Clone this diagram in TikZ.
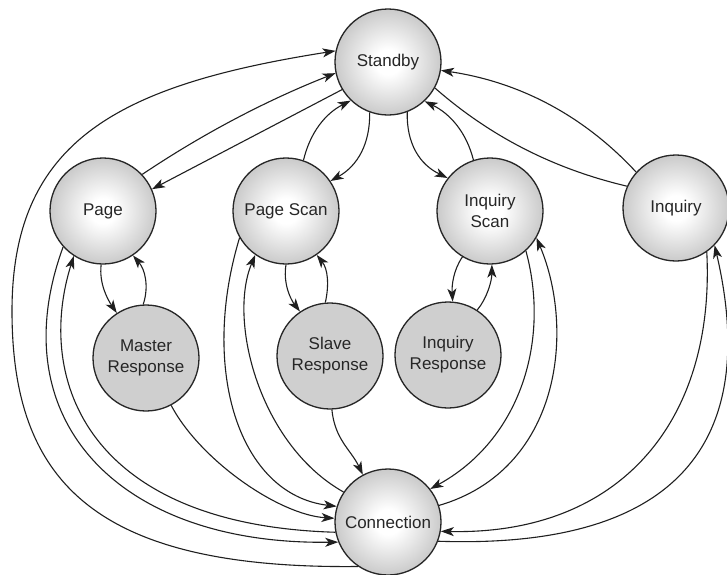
\documentclass[tikz,border=0pt]{standalone}
\usepackage{fontspec}
\setmainfont{Liberation Sans}
\usetikzlibrary{arrows.meta}
\pgfdeclareradialshading{ballshade}{\pgfpoint{0bp}{0bp}}{color(0bp)=(white); color(6bp)=(white); color(50bp)=(black!48); color(100bp)=(black!48)}
\begin{document}
\begin{tikzpicture}[x=1pt,y=-1pt,
  ball/.style={circle, draw=black!85, line width=1.3pt, minimum size=106pt, inner sep=0pt,
    shading=ballshade, align=center, font=\fontsize{17}{21}\selectfont, text=black!85},
  resp/.style={circle, draw=black!85, line width=1.3pt, minimum size=106pt, inner sep=0pt,
    fill=black!19, align=center, font=\fontsize{17}{21}\selectfont, text=black!85},
  arr/.style={draw=black!88, line width=1.1pt, -{Stealth[length=13pt,width=9pt,inset=3.5pt]}},
  plainline/.style={draw=black!88, line width=1.1pt}]
\useasboundingbox (0,0) rectangle (727,574);
\fill[white] (0,0) rectangle (727,574);

\node[ball] (standby) at (388,62) {Standby};
\node[ball] (page) at (103,211) {Page};
\node[ball] (pscan) at (286,211) {Page Scan};
\node[ball] (iscan) at (490,211) {Inquiry\\Scan};
\node[ball] (inq) at (676,208) {Inquiry};
\node[resp] (mresp) at (146,358) {Master\\Response};
\node[resp] (sresp) at (330,356) {Slave\\Response};
\node[resp] (iresp) at (448,355) {Inquiry\\Response};
\node[ball] (conn) at (388,522) {Connection};
\coordinate (west) at (12,311);

% Connection -> Standby (outer arc)
\draw[arr] (conn.236) .. controls +(-265,3) and +(0,169) .. (west)
  .. controls +(0,-171) and +(-216,34) .. (standby.168);
% Page <-> Standby
\draw[arr] (page.43) .. controls +(61,-41) and +(-68.5,27) .. (standby.192);
\draw[arr] (standby.211) -- (page.24);
% Page Scan <-> Standby
\draw[arr] (pscan.71) .. controls +(6.6,-27.7) and +(-25.4,12.9) .. (standby.226);
\draw[arr] (standby.250) .. controls +(0.6,31.2) and +(27.2,-15.2) .. (pscan.34);
% Inquiry Scan <-> Standby
\draw[arr] (standby.291) .. controls +(-0.8,31.3) and +(-28.2,-13.5) .. (iscan.142.5);
\draw[arr] (iscan.108) .. controls +(-7,-27.7) and +(25.6,12.5) .. (standby.313.6);
% Inquiry <-> Standby
\draw[arr] (inq.138.5) .. controls +(-53.2,-57.4) and +(77.4,11.4) .. (standby.351.6);
\draw[plainline] (standby.331) .. controls +(56.1,49.1) and +(-72.5,-17.1) .. (inq.156.5);
% Page <-> Master Response
\draw[arr] (page.268) .. controls +(-2.2,19) and +(-9.1,-13.5) .. (mresp.123);
\draw[arr] (mresp.93) .. controls +(6,-18) and +(12,14) .. (page.304);
% Page Scan <-> Slave Response
\draw[arr] (pscan.270) .. controls +(-3,18) and +(-10,-13) .. (sresp.124);
\draw[arr] (sresp.95) .. controls +(4,-18) and +(11,14) .. (pscan.305);
% Inquiry Scan <-> Inquiry Response
\draw[arr] (iscan.239) .. controls +(-9,13) and +(-1,-16) .. (iresp.85);
\draw[arr] (iresp.57) .. controls +(10,-12) and +(0,16) .. (iscan.272);
% Inquiry Scan <-> Connection
\draw[arr] (iscan.312) .. controls +(24.5,89.6) and +(90.2,-49.4) .. (conn.38);
\draw[arr] (conn.18) .. controls +(121.6,-35.6) and +(39.1,92.5) .. (iscan.330);
% Inquiry <-> Connection
\draw[arr] (inq.305) .. controls +(8.6,168.6) and +(179.8,3.8) .. (conn.350);
\draw[arr] (conn.339) .. controls +(262.5,9) and +(40.9,175.2) .. (inq.316);
% Page Scan <-> Connection
\draw[arr] (conn.146) .. controls +(-84.1,-47.4) and +(-27.6,65.6) .. (pscan.235);
\draw[arr] (pscan.210) .. controls +(-40.1,132.5) and +(-97.3,-11.5) .. (conn.163);
% Responses -> Connection
\draw[arr] (mresp.298) .. controls +(29.1,55.2) and +(-55.1,-3.3) .. (conn.176);
\draw[arr] (sresp.272) .. controls +(3,30) and +(-12,-25) .. (conn.118);
% Page <-> Connection
\draw[arr] (conn.191) .. controls +(-246.9,-7.1) and +(-39.1,124.6) .. (page.237);
\draw[arr] (page.222) .. controls +(-63.6,173.5) and +(-218.9,3.1) .. (conn.202);
\end{tikzpicture}
\end{document}
